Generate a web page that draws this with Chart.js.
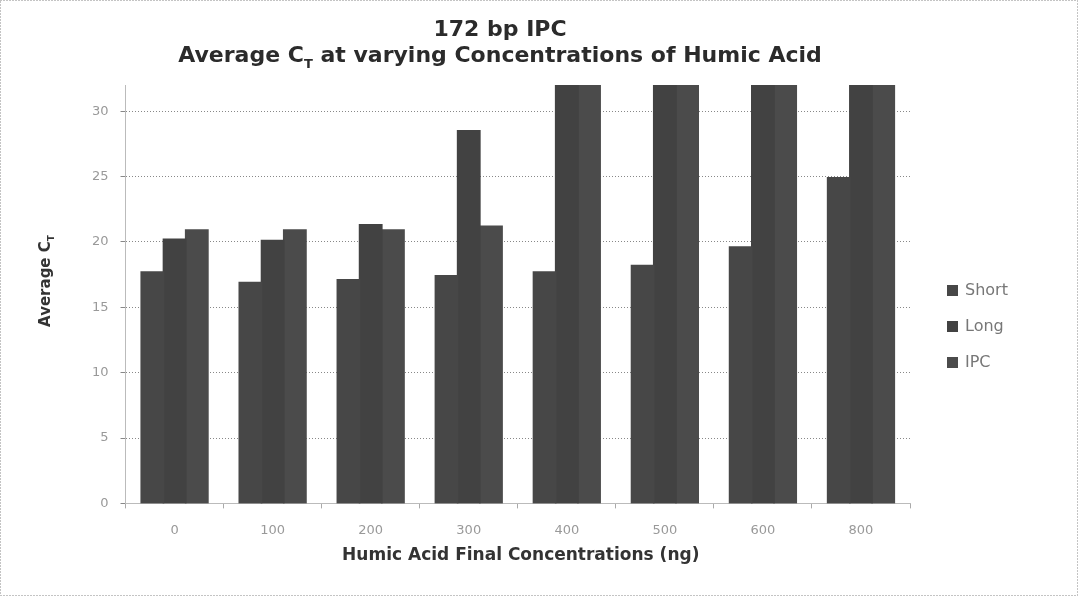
<!DOCTYPE html>
<html>
<head>
<meta charset="utf-8">
<script src="https://cdn.jsdelivr.net/npm/chart.js@4"></script>
<style>
  body { margin: 0; background: #fff; }
  #wrap { width: 1078px; height: 596px; }
</style>
</head>
<body>
<div id="wrap"><canvas id="ctChart"></canvas></div>
<script>
// Data (no-amplification wells sit above the axis and get clipped)
const concentrations = ["0", "100", "200", "300", "400", "500", "600", "800"];
const shortCt = [17.7, 16.9, 17.1, 17.4, 17.7, 18.2, 19.6, 24.9];
const longCt = [20.2, 20.1, 21.3, 28.5, 40, 40, 40, 40];
const ipcCt = [20.9, 20.9, 20.9, 21.2, 40, 40, 40, 40];
const yTicks = [0, 5, 10, 15, 20, 25, 30];

const FONT = "'DejaVu Sans', sans-serif";

// draws "Average C" with a subscript T followed by the rest, centred on cx
function drawSubT(ctx, cx, y, size, rest) {
  const big = "bold " + size + "px " + FONT;
  const small = "bold " + Math.round(size * 0.6) + "px " + FONT;
  ctx.font = big;
  const wa = ctx.measureText("Average C").width;
  const wb = ctx.measureText(rest).width;
  ctx.font = small;
  const ws = ctx.measureText("T").width;
  let x = cx - (wa + ws + wb) / 2;
  ctx.textAlign = "left";
  ctx.font = big;
  ctx.fillText("Average C", x, y);
  x += wa;
  ctx.font = small;
  ctx.fillText("T", x, y + size * 0.25);
  x += ws;
  ctx.font = big;
  ctx.fillText(rest, x, y);
}

// titles, axis titles, legend and dotted frame
const extras = {
  id: "extras",
  afterDraw(chart) {
    const { ctx, chartArea, width, height } = chart;
    ctx.save();
    ctx.textBaseline = "alphabetic";
    ctx.fillStyle = "#2b2b2b";

    // main title
    ctx.textAlign = "center";
    ctx.font = "bold 22px " + FONT;
    ctx.fillText("172 bp IPC", 500, 36);
    drawSubT(ctx, 500, 62, 22, " at varying Concentrations of Humic Acid");

    // x axis title
    ctx.fillStyle = "#333";
    ctx.textAlign = "center";
    ctx.font = "bold 17px " + FONT;
    ctx.fillText("Humic Acid Final Concentrations (ng)", (chartArea.left + chartArea.right) / 2 + 3, 560);

    // y axis title
    ctx.save();
    ctx.translate(50, 281);
    ctx.rotate(-Math.PI / 2);
    drawSubT(ctx, 0, 0, 15, "");
    ctx.restore();

    // legend
    ctx.textBaseline = "middle";
    ctx.textAlign = "left";
    ctx.font = "16px " + FONT;
    chart.data.datasets.forEach((ds, i) => {
      const y = 290 + i * 36;
      ctx.fillStyle = ds.backgroundColor;
      ctx.fillRect(947, y - 5, 11, 11);
      ctx.fillStyle = "#777";
      ctx.fillText(ds.label, 965, y + 1);
    });

    // dotted frame
    ctx.strokeStyle = "#888";
    ctx.lineWidth = 1;
    ctx.setLineDash([1, 2]);
    ctx.strokeRect(0.5, 0.5, width - 1, height - 1);
    ctx.restore();
  }
};

const ctChart = new Chart(document.getElementById("ctChart"), {
  type: "bar",
  data: {
    labels: concentrations,
    datasets: [
      { label: "Short", data: shortCt, backgroundColor: "#474747" },
      { label: "Long", data: longCt, backgroundColor: "#424242" },
      { label: "IPC", data: ipcCt, backgroundColor: "#4b4b4b" },
    ],
  },
  options: {
    responsive: true,
    maintainAspectRatio: false,
    animation: false,
    datasets: { bar: { barPercentage: 1, categoryPercentage: 0.68, inflateAmount: 0.8 } },
    layout: { padding: { top: 85, left: 80, right: 168, bottom: 44 } },
    plugins: {
      title: { display: false },
      tooltip: { enabled: false },
      legend: { display: false },
    },
    scales: {
      x: {
        offset: true,
        grid: { drawOnChartArea: false, tickLength: 5, color: "#aaa", offset: true },
        border: { color: "#bbb" },
        ticks: { color: "#999", font: { family: FONT, size: 13 }, padding: 14 },
      },
      y: {
        min: 0,
        max: 32,
        afterBuildTicks: (axis) => {
          axis.ticks = yTicks.map((v) => ({ value: v }));
        },
        grid: { color: "#888", tickLength: 5 },
        border: { color: "#bbb", dash: [1, 2] },
        ticks: { color: "#999", font: { family: FONT, size: 13 }, padding: 12 },
      },
    },
  },
  plugins: [extras],
});
</script>
</body>
</html>
